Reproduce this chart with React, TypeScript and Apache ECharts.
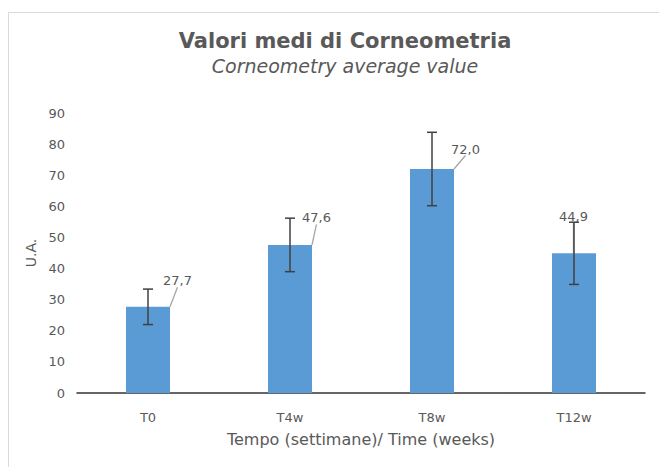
import React, { useEffect, useRef } from "react";
import * as echarts from "echarts";

const categories = ["T0", "T4w", "T8w", "T12w"];
const means = [27.7, 47.6, 72.0, 44.9];
const errors = [5.7, 8.6, 11.8, 10.0];
const yTicks = [0, 10, 20, 30, 40, 50, 60, 70, 80, 90];

// label placement (styling, relative to bar top centre)
const labelDx = [15, 12, 19, -15];
const labelDy = [-26, -27, -20, -37];

const FONT = "'DejaVu Sans', 'Open Sans', sans-serif";
const TXT = "#595959";

export default function App() {
  const ref = useRef<HTMLDivElement>(null);
  useEffect(() => {
    if (!ref.current) return;
    const chart = echarts.init(ref.current, undefined, { renderer: "svg" });
    chart.setOption({
      animation: false,
      backgroundColor: "#fff",
      title: {
        text: "Valori medi di Corneometria",
        subtext: "Corneometry average value",
        left: 331,
        textAlign: "center",
        top: 12,
        itemGap: 5,
        textStyle: { fontFamily: FONT, fontSize: 21, fontWeight: "bold", color: TXT },
        subtextStyle: { fontFamily: FONT, fontSize: 19, fontStyle: "italic", color: TXT },
      },
      grid: { left: 68, top: 100, width: 568, height: 280 },
      xAxis: {
        type: "category",
        data: categories,
        name: "Tempo (settimane)/ Time (weeks)",
        nameLocation: "middle",
        nameGap: 38,
        nameTextStyle: { fontFamily: FONT, fontSize: 16, color: TXT },
        axisLine: { lineStyle: { color: "#333", width: 1.5 } },
        axisTick: { show: false },
        axisLabel: { fontFamily: FONT, fontSize: 13, color: TXT, margin: 18 },
      },
      yAxis: {
        type: "value",
        min: 0,
        max: 90,
        interval: 10,
        name: "U.A.",
        nameLocation: "middle",
        nameGap: 25,
        nameTextStyle: { fontFamily: FONT, fontSize: 14, color: TXT },
        splitLine: { show: false },
        axisLine: { show: false },
        axisTick: { show: false },
        axisLabel: {
          fontFamily: FONT,
          fontSize: 13,
          color: TXT,
          margin: 12,
          formatter: (v: number) => (yTicks.includes(v) ? String(v) : ""),
        },
      },
      series: [
        {
          type: "bar",
          data: means,
          barWidth: "31%",
          itemStyle: { color: "#5B9BD5" },
          label: {
            show: true,
            position: "top",
            fontFamily: FONT,
            fontSize: 13,
            color: TXT,
            formatter: (p: any) => p.value.toFixed(1).replace(".", ","),
          },
          labelLine: { show: true, lineStyle: { color: "#a6a6a6", width: 1.3 } },
          labelLayout: (p: any) => {
            const i = p.dataIndex;
            return {
              x: p.rect.x + p.rect.width / 2 + labelDx[i],
              y: p.rect.y + labelDy[i],
              align: "left",
              verticalAlign: "middle",
            };
          },
          z: 2,
        },
        {
          type: "custom",
          z: 5,
          data: means.map((m, i) => [i, m - errors[i], m + errors[i]]),
          renderItem: (params: any, api: any) => {
            const i = api.value(0);
            const lo = api.coord([i, api.value(1)]);
            const hi = api.coord([i, api.value(2)]);
            const cap = 5;
            const style = { stroke: "#404040", lineWidth: 1.5 };
            return {
              type: "group",
              children: [
                { type: "line", shape: { x1: hi[0], y1: hi[1], x2: lo[0], y2: lo[1] }, style },
                { type: "line", shape: { x1: hi[0] - cap, y1: hi[1], x2: hi[0] + cap, y2: hi[1] }, style },
                { type: "line", shape: { x1: lo[0] - cap, y1: lo[1], x2: lo[0] + cap, y2: lo[1] }, style },
              ],
            };
          },
        },
      ],
    });
    return () => chart.dispose();
  }, []);
  return (
    <div
      style={{
        position: "relative",
        top: 4,
        width: 659,
        height: 458,
        borderTop: "1px solid #d9d9d9",
        borderLeft: "1px solid #d9d9d9",
      }}
    >
      <div ref={ref} style={{ width: 658, height: 457 }} />
    </div>
  );
}
